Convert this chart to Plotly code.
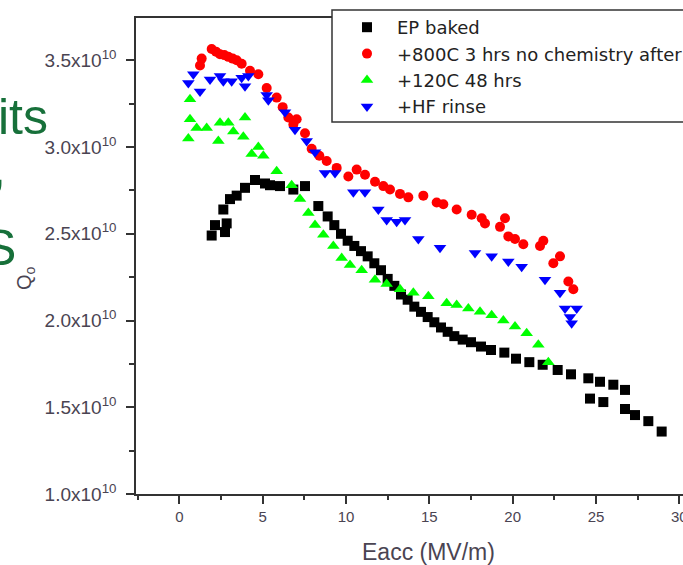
import plotly.graph_objects as go

# ---- data (Q0 in units of 1e10) ----
ep_x = [1.94, 2.14, 2.74, 2.84, 2.64, 3.04, 3.44, 3.94, 4.54, 5.14, 5.44, 6.04, 6.84, 7.54,
        8.34, 8.9, 9.3, 9.7, 10.1, 10.5, 10.9, 11.3, 11.7, 12.1, 12.5, 12.9, 13.3, 13.7, 14.1,
        14.5, 14.9, 15.3, 15.7, 16.1, 16.5, 17.0, 17.5, 18.1, 18.7, 19.5, 20.2, 21.0, 21.8,
        22.7, 23.5, 24.54, 25.24, 26.04, 26.74, 24.64, 25.44, 26.74, 27.34, 28.14, 28.94]
ep_q = [2.49, 2.55, 2.51, 2.56, 2.64, 2.70, 2.72, 2.765, 2.81, 2.79, 2.78, 2.775, 2.755, 2.775,
        2.66, 2.60, 2.55, 2.50, 2.46, 2.43, 2.40, 2.37, 2.33, 2.29, 2.24, 2.20, 2.15, 2.12, 2.08,
        2.05, 2.02, 1.99, 1.96, 1.935, 1.91, 1.89, 1.875, 1.85, 1.83, 1.815, 1.78, 1.76, 1.745,
        1.715, 1.69, 1.667, 1.647, 1.63, 1.60, 1.55, 1.53, 1.49, 1.455, 1.42, 1.36]

r800_x = [1.24, 1.34, 1.94, 2.2, 2.44, 2.7, 2.94, 3.2, 3.44, 3.74, 4.24, 4.74, 5.24, 5.84, 6.2,
          6.54, 6.84, 7.04, 7.54, 7.94, 8.4, 8.84, 9.44, 10.14, 10.64, 11.14, 11.74, 12.24, 12.64,
          13.24, 13.74, 14.64, 15.44, 15.84, 16.64, 17.54, 18.14, 18.34, 19.24, 19.54, 19.74,
          20.14, 20.64, 21.64, 21.84, 22.44, 22.84, 23.34, 23.64]
r800_q = [3.47, 3.51, 3.565, 3.55, 3.535, 3.53, 3.52, 3.51, 3.50, 3.48, 3.44, 3.42, 3.34, 3.285, 3.23,
          3.17, 3.13, 3.16, 3.08, 2.99, 2.95, 2.92, 2.88, 2.83, 2.87, 2.84, 2.80, 2.775, 2.755,
          2.73, 2.71, 2.72, 2.68, 2.67, 2.64, 2.61, 2.59, 2.56, 2.54, 2.59, 2.485,
          2.47, 2.44, 2.43, 2.46, 2.33, 2.37, 2.225, 2.18]

b120_x = [0.64, 0.64, 0.54, 1.04, 1.64, 2.34, 2.44, 2.94, 3.24, 3.94, 3.84, 4.34, 4.74, 5.04,
          5.84, 6.74, 7.24, 7.74, 8.14, 8.64, 9.24, 9.74, 10.24, 10.94, 11.74, 12.44, 13.24, 14.04,
          14.94, 16.04, 16.64, 17.34, 18.04, 18.74, 19.44, 20.14, 20.84, 21.54, 22.14]
b120_q = [3.275, 3.16, 3.05, 3.11, 3.11, 3.035, 3.14, 3.14, 3.09, 3.17, 3.06, 2.96, 3.00, 2.95,
          2.86, 2.78, 2.70, 2.62, 2.55, 2.495, 2.43, 2.36, 2.32, 2.29, 2.235, 2.21, 2.18, 2.16,
          2.14, 2.10, 2.09, 2.07, 2.05, 2.03, 2.00, 1.965, 1.927, 1.86, 1.76]

hf_x = [0.54, 0.84, 1.24, 1.84, 2.44, 2.64, 3.14, 3.74, 3.94, 4.14, 5.24, 5.34, 6.34, 6.94, 7.64,
        8.14, 8.74, 9.34, 10.44, 11.14, 11.94, 12.44, 13.04, 13.54, 14.34, 15.64, 17.74, 18.74,
        19.74, 20.54, 21.94, 22.84, 23.14, 23.84, 23.44, 23.54]
hf_q = [3.37, 3.42, 3.32, 3.39, 3.41, 3.38, 3.38, 3.40, 3.35, 3.41, 3.30, 3.27, 3.20, 3.10, 3.035,
        2.97, 2.85, 2.85, 2.74, 2.74, 2.64, 2.58, 2.57, 2.58, 2.47, 2.42, 2.39, 2.37,
        2.34, 2.31, 2.235, 2.16, 2.07, 2.07, 2.02, 1.985]

series_names = ["EP baked", "+800C 3 hrs no chemistry after", "+120C 48 hrs", "+HF rinse"]
x_ticks = [0, 5, 10, 15, 20, 25, 30]
y_ticks = [1.0, 1.5, 2.0, 2.5, 3.0, 3.5]
y_ticktext = ["%.1fx10<sup>10</sup>" % v for v in y_ticks]

SCALE = 1e10
# plot-area pixel geometry
L, T, B, W = 136, 18, 494, 547
H = B - T


def px_x(p):
    return (p - L) / W


def px_y(p):
    return (B - p) / H


fig = go.Figure()
specs = [
    (ep_x, ep_q, "square", "#000000", 10),
    (r800_x, r800_q, "circle", "#ff0000", 10),
    (b120_x, b120_q, "triangle-up", "#00ff00", 11),
    (hf_x, hf_q, "triangle-down", "#0000ff", 11),
]
for name, (xs, qs, sym, col, sz) in zip(series_names, specs):
    fig.add_trace(go.Scatter(
        x=xs, y=[q * SCALE for q in qs], mode="markers", name=name,
        marker=dict(symbol=sym, color=col, size=sz, line=dict(width=0)),
    ))

axis_col = "#333333"
label_col = "#4a4452"
fig.update_layout(
    width=683, height=565,
    margin=dict(l=L, r=0, t=T, b=565 - B, autoexpand=False),
    paper_bgcolor="white", plot_bgcolor="white",
    font=dict(family="Arial, Liberation Sans, sans-serif", color=label_col),
    showlegend=True,
    legend=dict(
        x=px_x(337), y=px_y(9), xanchor="left", yanchor="top",
        bgcolor="rgba(0,0,0,0)", borderwidth=0, itemwidth=50,
        font=dict(size=18, color="#222222", family="DejaVu Sans, Arial, sans-serif"),
        traceorder="normal",
    ),
    xaxis=dict(
        range=[-2.6, 30.22], tickvals=x_ticks, ticks="outside", ticklen=8, tickwidth=1.5,
        tickcolor=axis_col, showline=True, linecolor=axis_col, linewidth=1.5, mirror=True,
        showgrid=False, zeroline=False, tickfont=dict(size=15, color=label_col),
        ticklabeloverflow="allow",
        minor=dict(dtick=2.5, tick0=0, ticks="outside", ticklen=4, tickcolor=axis_col, tickwidth=1.5),
    ),
    yaxis=dict(
        range=[1.0 * SCALE, 3.744 * SCALE], tickvals=[v * SCALE for v in y_ticks], ticktext=y_ticktext,
        ticks="outside", ticklen=8, tickwidth=1.5, tickcolor=axis_col,
        showline=True, linecolor=axis_col, linewidth=1.5, mirror=False,
        showgrid=False, zeroline=False, tickfont=dict(size=19, color=label_col),
        ticklabelstandoff=6,
        minor=dict(dtick=0.25 * SCALE, tick0=0, ticks="outside", ticklen=5, tickcolor=axis_col, tickwidth=1.5),
    ),
)

# legend box (extends past the right edge like the original)
fig.add_shape(type="rect", xref="paper", yref="paper",
              x0=px_x(332), x1=px_x(760), y0=px_y(122), y1=px_y(10),
              line=dict(color="#333333", width=1.5), fillcolor="white", layer="above")

# x-axis title
fig.add_annotation(text="Eacc (MV/m)", xref="paper", yref="paper",
                   x=px_x(428), y=px_y(552), showarrow=False,
                   xanchor="center", yanchor="middle",
                   font=dict(size=23, color=label_col))

# y-axis title Q0 (rotated)
fig.add_annotation(text="Q<sub>o</sub>", xref="paper", yref="paper",
                   x=px_x(25), y=px_y(278), showarrow=False, textangle=-90,
                   font=dict(size=20, color=label_col), xanchor="center", yanchor="middle")

# fragments of the slide text behind the chart
green = "#17703a"
for txt, xr, yc in [("its", 50, 117), (",", 8, 168), ("S", 18, 248)]:
    fig.add_annotation(text=txt, xref="paper", yref="paper",
                       x=px_x(xr), y=px_y(yc), showarrow=False,
                       xanchor="right", yanchor="middle",
                       font=dict(size=50, color=green, family="Arial, Liberation Sans, sans-serif"))

fig.write_html("out.html")
